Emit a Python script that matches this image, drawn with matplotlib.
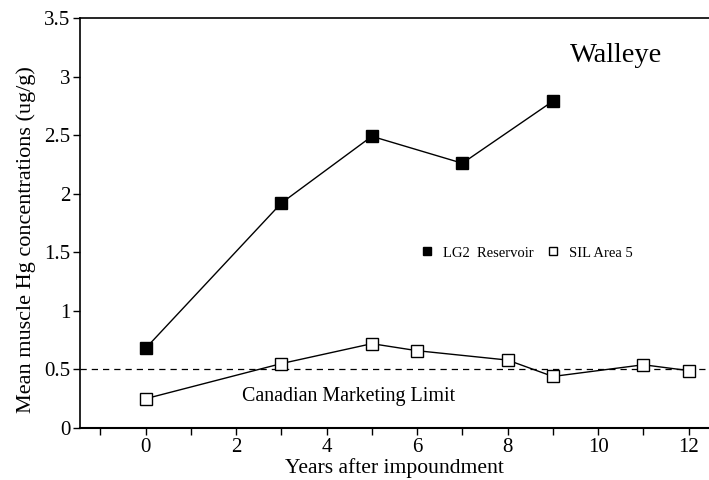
import matplotlib
matplotlib.use("Agg")
import matplotlib.pyplot as plt
from matplotlib.ticker import MultipleLocator

plt.rcParams['font.family'] = ['Liberation Serif', 'DejaVu Serif']

lg2_years = [0, 3, 5, 7, 9]
lg2_hg = [0.68, 1.92, 2.49, 2.26, 2.79]
sil_years = [0, 3, 5, 6, 8, 9, 11, 12]
sil_hg = [0.25, 0.55, 0.72, 0.66, 0.58, 0.44, 0.54, 0.49]
limit = 0.5

fig = plt.figure(figsize=(7.09, 4.80), dpi=100)
ax = fig.add_axes([0.1128, 0.1083, 0.8872, 0.8542])

ax.axhline(limit, color='black', linestyle=(0, (5, 4)), linewidth=0.9)
ax.plot(lg2_years, lg2_hg, color='black', linewidth=1.0, marker='s',
        markersize=8, markerfacecolor='black', markeredgecolor='black',
        label='LG2  Reservoir')
ax.plot(sil_years, sil_hg, color='black', linewidth=1.0, marker='s',
        markersize=8, markerfacecolor='white', markeredgecolor='black',
        label='SIL Area 5')

ax.set_xlim(-1.45, 12.45)
ax.set_ylim(0, 3.5)
ax.xaxis.set_major_locator(MultipleLocator(2))
ax.xaxis.set_minor_locator(MultipleLocator(1))
ax.set_yticks([0, 0.5, 1, 1.5, 2, 2.5, 3, 3.5])
ax.set_yticklabels(['0', '0.5', '1', '1.5', '2', '2.5', '3', '3.5'])

ax.tick_params(axis='both', which='major', labelsize=15, direction='out',
               length=5, width=1, pad=2)
ax.tick_params(axis='x', which='minor', direction='out', length=5, width=1)
ax.spines['right'].set_visible(False)
ax.spines['top'].set_linewidth(1.2)
ax.spines['bottom'].set_linewidth(1.5)
ax.spines['left'].set_linewidth(1.2)

ax.set_xlabel('Years after impoundment', fontsize=15.6, labelpad=1)
ax.set_ylabel('Mean muscle Hg concentrations (ug/g)', fontsize=16, labelpad=5)
ax.yaxis.set_label_coords(-0.07, 0.46)

ax.text(10.4, 3.18, 'Walleye', fontsize=20.5, ha='center', va='center')
ax.text(4.48, 0.265, 'Canadian Marketing Limit', fontsize=14.4, ha='center', va='center')

leg = ax.legend(loc='center', bbox_to_anchor=(0.711, 0.427), ncol=2, frameon=False,
                fontsize=10.5, handlelength=0.8, handletextpad=0.7, columnspacing=0.9,
                markerscale=0.8)
for h in leg.legend_handles:
    h.set_linestyle('none')

fig.savefig('out.png', dpi=100)
